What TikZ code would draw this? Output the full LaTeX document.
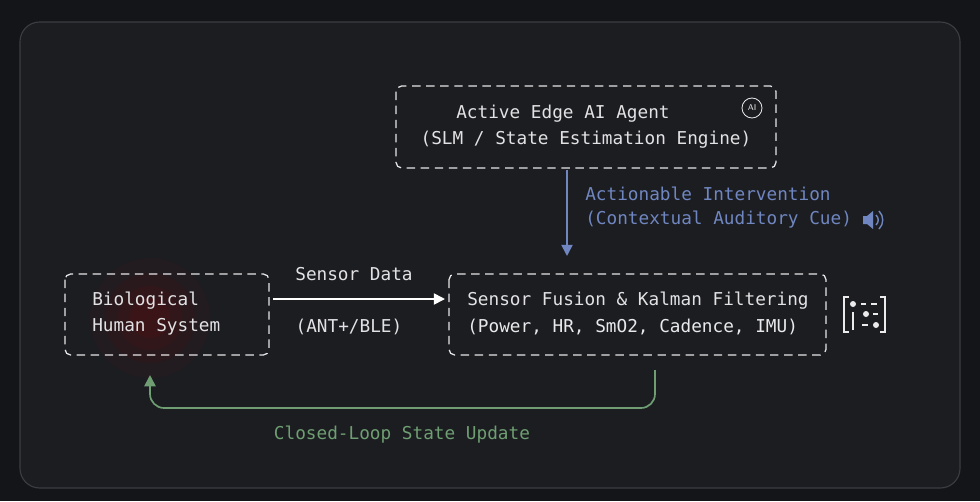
\documentclass[tikz,border=0pt]{standalone}
\usepackage{fontspec}
\setmonofont{DejaVu Sans Mono}
\usetikzlibrary{positioning,arrows.meta}
\definecolor{bgdark}{HTML}{141518}
\definecolor{panel}{HTML}{1C1D21}
\definecolor{edge}{HTML}{3C3D42}
\definecolor{txt}{HTML}{E2E2E4}
\definecolor{cue}{HTML}{6F86C0}
\definecolor{loop}{HTML}{6E9E72}
\tikzset{
  stage/.style={
    draw=txt!85,
    dash pattern=on 6pt off 4pt,
    line width=0.9pt,
    rounded corners=4pt,
  },
  label/.style={
    text=txt,
    font=\ttfamily\fontsize{12.6}{15}\selectfont,
    inner sep=0pt,
  },
  flow/.style={
    -{Triangle[length=8pt,width=8pt]},
    line width=1.2pt,
  },
}

\begin{document}
\begin{tikzpicture}[x=0.025cm,y=-0.025cm]
        \useasboundingbox (0,0) rectangle (980,501);
        \fill[bgdark] (0,0) rectangle (980,501);
        \filldraw[fill=panel, draw=edge, line width=0.8pt, rounded corners=14pt] (20,22) rectangle (960,488);

        % glow behind the body
        \foreach \r/\o in {60/0.05,45/0.06,32/0.08,20/0.1}
          \fill[red!60!black, opacity=\o] (150,318) circle (\r);

        \draw [stage] (396,86) rectangle (776,168);
        \draw [stage] (65,274) rectangle (269,355);
        \draw [stage] (449,274) rectangle (826,355);

        \node [label] (ag1) at (563,114) {Active Edge AI Agent};
        \node [label] (ag2) at (586,140) {(SLM / State Estimation Engine)};
        \node [label, anchor=west] (bio1) at (92,301) {Biological};
        \node [label, anchor=west] (bio2) at (92,327) {Human System};
        \node [label, anchor=west] (fu1) at (467,301) {Sensor Fusion \& Kalman Filtering};
        \node [label, anchor=west, text=txt!75] (fu2) at (467,327) {(Power, HR, SmO2, Cadence, IMU)};

        \coordinate (bioR) at (273,299);
        \coordinate (fuL) at (445,299);
        \draw [flow, draw=white] (bioR) -- (fuL);
        \node [label] (sd) at (354,274) {Sensor Data};
        \node [label] (ant) at (349,327) {(ANT+/BLE)};

        \coordinate (agB) at (567,170);
        \coordinate (fuT) at (567,256);
        \draw [flow, draw=cue] (agB) -- (fuT);
        \node [label, anchor=west, text=cue] (ai1) at (585,194) {Actionable Intervention};
        \node [label, anchor=west, text=cue] (ai2) at (585,220) {(Contextual Auditory Cue)};

        \coordinate (fuB) at (655,370);
        \coordinate (bioB) at (150,375);
        \draw [flow, draw=loop, rounded corners=10pt] (fuB) -- (655,408) -- (150,408) -- (bioB);
        \node [label, text=loop] (cl) at (402,435) {Closed-Loop State Update};

        % AI icon
        \draw [txt!80, line width=0.6pt] (752,108) circle (10);
        \node [text=txt!80, font=\sffamily\fontsize{6}{6}\selectfont, inner sep=0pt] (aiic) at (752,108) {AI};
        % speaker
        \fill [cue] (863,216) -- (867,216) -- (873,211) -- (873,229) -- (867,224) -- (863,224) -- cycle;
        \draw [cue, line width=1pt] (876,215) .. controls (879,218) and (879,222) .. (876,225);
        \draw [cue, line width=1pt] (879,211) .. controls (884,216) and (884,224) .. (879,229);
        % sensor icon
        \draw [txt!70, line width=1pt] (849,297) -- (844,297) -- (844,332) -- (849,332);
        \draw [txt!70, line width=1pt] (880,297) -- (885,297) -- (885,332) -- (880,332);
        \fill [txt!70] (853,304) circle (3) (866,314) circle (3) (876,325) circle (3);
        \draw [txt!70, line width=1pt] (861,304) -- (866,304) (871,304) -- (877,304)
              (873,314) -- (878,314) (853,312) -- (853,330) (862,325) -- (868,325);
      \end{tikzpicture}
\end{document}
